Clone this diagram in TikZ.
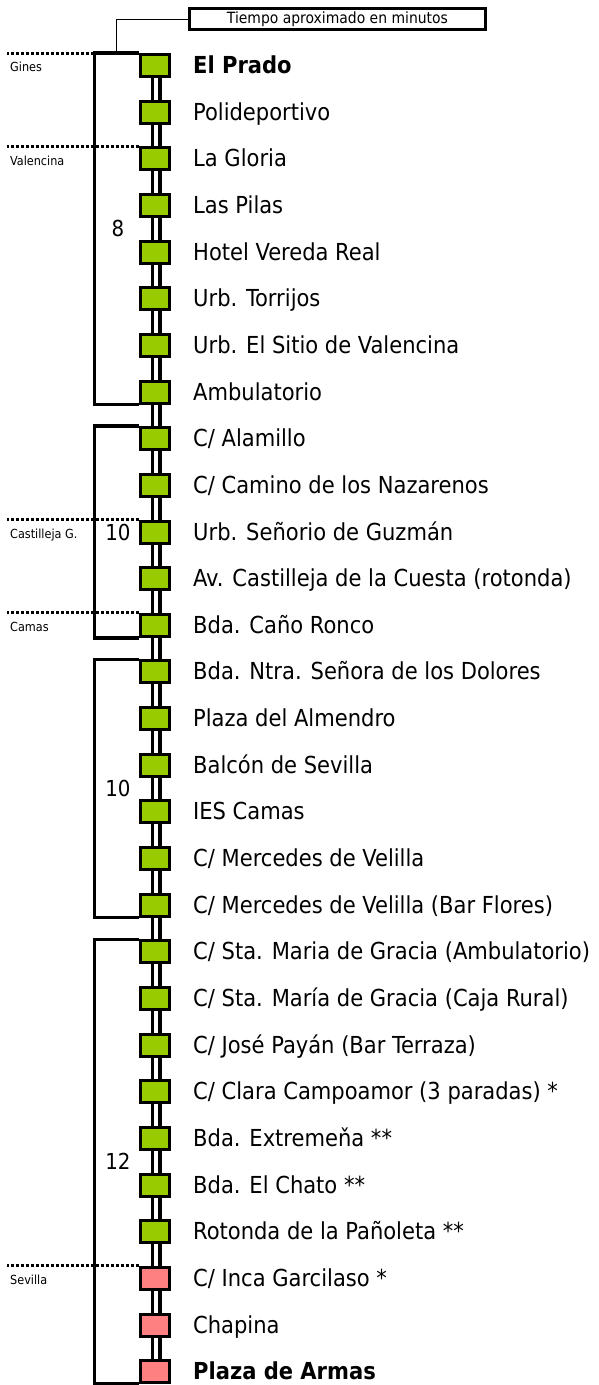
\documentclass[tikz,border=0pt]{standalone}
\usepackage{fontspec}
\setmainfont{DejaVu Sans Condensed}
\usetikzlibrary{positioning}
\definecolor{stopgreen}{HTML}{99CC00}
\definecolor{stoppink}{HTML}{FF8080}
\tikzstyle{stop} = [draw, line width=3pt, minimum width=29pt, minimum height=22pt, inner sep=0pt]
\tikzstyle{stopname} = [anchor=base west, inner sep=0pt, font=\fontsize{23.4}{28}\selectfont]
\tikzstyle{rail} = [double, line width=3.5pt, double distance=4pt]
\tikzstyle{bracket} = [line width=3.5pt]
\tikzstyle{townline} = [line width=3pt, dash pattern=on 3pt off 2pt]
\tikzstyle{townname} = [anchor=north west, inner sep=0pt, font=\fontsize{12.5}{14}\selectfont]
\tikzstyle{minutes} = [font=\fontsize{22}{26}\selectfont, inner sep=0pt]
\tikzstyle{legend} = [draw, line width=3pt, minimum width=296pt, minimum height=21pt, inner sep=0pt, font=\fontsize{15.5}{18}\selectfont]

\begin{document}
\begin{tikzpicture}[x=1pt, y=-1pt]
    \useasboundingbox (0,0) rectangle (598,1385);

    % stops and their names
    \foreach \name [count=\i from 0] in {{El Prado}, {Polideportivo}, {La Gloria}, {Las Pilas},
        {Hotel Vereda Real}, {Urb. Torrijos}, {Urb. El Sitio de Valencina}, {Ambulatorio},
        {C/ Alamillo}, {C/ Camino de los Nazarenos}, {Urb. Señorio de Guzmán},
        {Av. Castilleja de la Cuesta (rotonda)}, {Bda. Caño Ronco},
        {Bda. Ntra. Señora de los Dolores}, {Plaza del Almendro}, {Balcón de Sevilla},
        {IES Camas}, {C/ Mercedes de Velilla}, {C/ Mercedes de Velilla (Bar Flores)},
        {C/ Sta. Maria de Gracia (Ambulatorio)}, {C/ Sta. María de Gracia (Caja Rural)},
        {C/ José Payán (Bar Terraza)}, {C/ Clara Campoamor (3 paradas) *},
        {Bda. Extremeňa **}, {Bda. El Chato **}, {Rotonda de la Pañoleta **},
        {C/ Inca Garcilaso *}, {Chapina}, {Plaza de Armas}} {
        \pgfmathsetmacro{\y}{65.5+46.65*\i}
        \ifnum\i<26 \def\col{stopgreen}\else \def\col{stoppink}\fi
        \node[stop, fill=\col] (s\i) at (154.5,\y) {};
        \node[stopname] (l\i) at (193,\y+8) {\ifnum\i=0 \bfseries\fi\ifnum\i=28 \bfseries\fi\name};
    }

    % the track
    \foreach \i [evaluate=\i as \j using int(\i+1)] in {0,...,27}
        \draw[rail] ([xshift=1.5pt]s\i.south) -- ([xshift=1.5pt]s\j.north);

    % town limits
    \foreach \k/\town in {0/Gines, 2/Valencina, 10/Castilleja G., 12/Camas, 26/Sevilla} {
        \draw[townline] (s\k.north west) -- ([xshift=-131.5pt]s\k.north west) coordinate (c\k);
        \node[townname] (t\k) at ([xshift=3pt, yshift=-9pt]c\k) {\town};
    }

    % minutes per stretch
    \foreach \first/\last/\mins in {0/7/8, 8/12/10, 13/18/10, 19/28/12} {
        \draw[bracket] (s\first.north west) -- ++(-44,0) |- (s\last.south west);
        \node[minutes] (m\first) at (118, {65.5+46.65*(\first+\last)/2}) {\mins};
    }

    \node[legend] (legend) at (337.5,19) {Tiempo aproximado en minutos};
    \draw[line width=1pt] (legend.west) -| ([xshift=-22.5pt]s0.north west);

\end{tikzpicture}
\end{document}
